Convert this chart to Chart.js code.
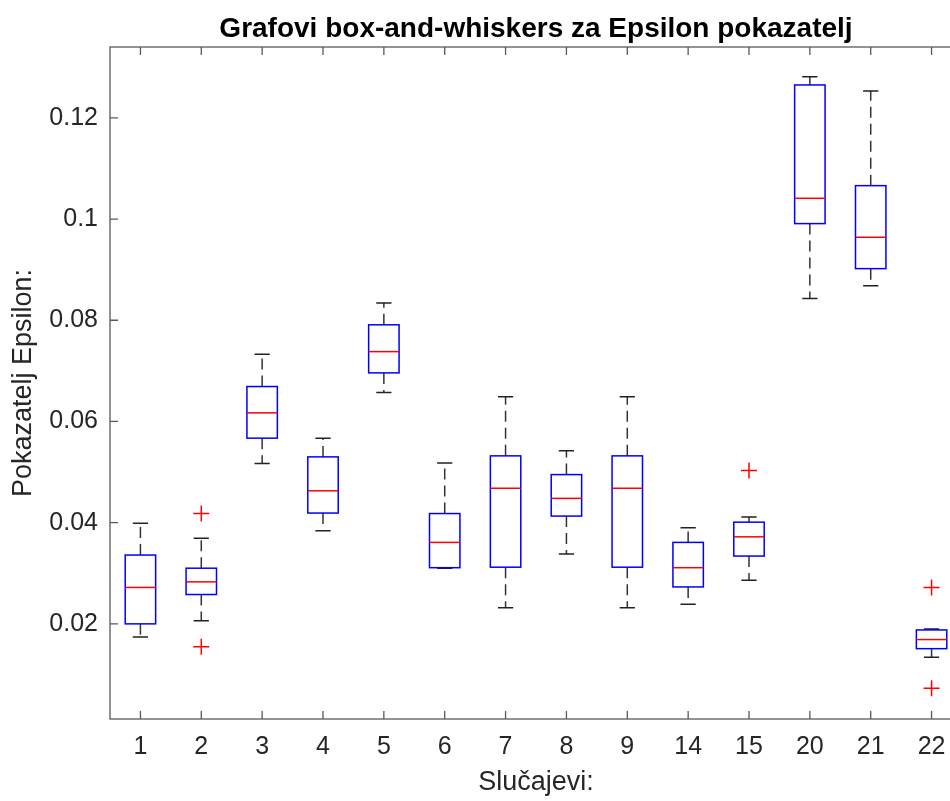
<!DOCTYPE html>
<html>
<head>
<meta charset="utf-8">
<title>Epsilon pokazatelj</title>
<script src="https://cdn.jsdelivr.net/npm/chart.js@4.4.1/dist/chart.umd.min.js"></script>
<style>
    html, body { margin: 0; padding: 0; background: #fff; overflow: hidden; }
    #wrap { width: 975px; height: 801px; }
</style>
</head>
<body>
<div id="wrap"><canvas id="epsilon-chart" width="975" height="801"></canvas></div>
<script>
// Five-number summaries per case
const caseLabels = ["1", "2", "3", "4", "5", "6", "7", "8", "9", "14", "15", "20", "21", "22"];
const whiskerLow  = [0.0174, 0.0206, 0.0517, 0.0384, 0.0657, 0.0310, 0.0232, 0.0338, 0.0232, 0.0239, 0.0286, 0.0843, 0.0868, 0.0134];
const quartile1   = [0.0200, 0.0258, 0.0567, 0.0419, 0.0696, 0.0311, 0.0312, 0.0413, 0.0312, 0.0273, 0.0334, 0.0991, 0.0902, 0.0151];
const medians     = [0.0272, 0.0283, 0.0617, 0.0463, 0.0738, 0.0361, 0.0468, 0.0448, 0.0468, 0.0311, 0.0372, 0.1041, 0.0964, 0.0169];
const quartile3   = [0.0336, 0.0310, 0.0669, 0.0530, 0.0791, 0.0418, 0.0532, 0.0495, 0.0532, 0.0361, 0.0401, 0.1265, 0.1066, 0.0188];
const whiskerHigh = [0.0399, 0.0369, 0.0733, 0.0567, 0.0834, 0.0518, 0.0649, 0.0542, 0.0649, 0.0390, 0.0411, 0.1281, 0.1253, 0.0190];
const outlierValues = [[], [0.0418, 0.0155], [], [], [], [], [], [], [], [], [0.0503], [], [], [0.0272, 0.0073]];
const yTicks = [0.02, 0.04, 0.06, 0.08, 0.1, 0.12];

const FONT = "'Liberation Sans', Arial, Helvetica, sans-serif";
const AXIS_COLOR = "#595959";
const TEXT_COLOR = "#262626";

document.addEventListener("DOMContentLoaded", function() {
    // boxes, whiskers and medians drawn under the outlier markers
    const boxPlot = {
        id: "boxPlot",
        beforeDatasetsDraw(chart) {
            const ctx = chart.ctx;
            const xs = chart.scales.x, ys = chart.scales.y;
            const half = xs.getPixelForValue(1.25) - xs.getPixelForValue(1);
            const capHalf = half / 2;
            ctx.save();
            ctx.lineWidth = 1.5;
            caseLabels.forEach(function(label, i) {
                const cx = xs.getPixelForValue(i + 1);
                const lo = ys.getPixelForValue(whiskerLow[i]);
                const q1 = ys.getPixelForValue(quartile1[i]);
                const md = ys.getPixelForValue(medians[i]);
                const q3 = ys.getPixelForValue(quartile3[i]);
                const hi = ys.getPixelForValue(whiskerHigh[i]);

                // dashed whiskers
                ctx.strokeStyle = "#333333";
                ctx.setLineDash([11, 6]);
                ctx.beginPath();
                ctx.moveTo(cx, q3); ctx.lineTo(cx, hi);
                ctx.moveTo(cx, q1); ctx.lineTo(cx, lo);
                ctx.stroke();
                ctx.setLineDash([]);

                // whisker caps
                ctx.strokeStyle = "#222222";
                ctx.beginPath();
                ctx.moveTo(cx - capHalf, hi); ctx.lineTo(cx + capHalf, hi);
                ctx.moveTo(cx - capHalf, lo); ctx.lineTo(cx + capHalf, lo);
                ctx.stroke();

                // box
                ctx.strokeStyle = "#0000ff";
                ctx.strokeRect(cx - half, q3, 2 * half, q1 - q3);

                // median
                ctx.strokeStyle = "#ff0000";
                ctx.beginPath();
                ctx.moveTo(cx - half, md); ctx.lineTo(cx + half, md);
                ctx.stroke();
            });
            ctx.restore();
        },
        afterDraw(chart) {
            // axes box with inward ticks
            const ctx = chart.ctx;
            const a = chart.chartArea;
            const xs = chart.scales.x, ys = chart.scales.y;
            const tick = 8;
            ctx.save();
            ctx.strokeStyle = AXIS_COLOR;
            ctx.lineWidth = 1.3;
            ctx.strokeRect(a.left, a.top, a.right - a.left, a.bottom - a.top);
            ctx.beginPath();
            caseLabels.forEach(function(label, i) {
                const px = xs.getPixelForValue(i + 1);
                ctx.moveTo(px, a.bottom); ctx.lineTo(px, a.bottom - tick);
                ctx.moveTo(px, a.top); ctx.lineTo(px, a.top + tick);
            });
            yTicks.forEach(function(v) {
                const py = ys.getPixelForValue(v);
                ctx.moveTo(a.left, py); ctx.lineTo(a.left + tick, py);
                ctx.moveTo(a.right, py); ctx.lineTo(a.right - tick, py);
            });
            ctx.stroke();
            ctx.restore();
        }
    };

    const outlierPoints = [];
    outlierValues.forEach(function(list, i) {
        list.forEach(function(v) { outlierPoints.push({ x: i + 1, y: v }); });
    });

    const ctx = document.getElementById("epsilon-chart").getContext("2d");
    new Chart(ctx, {
        type: "scatter",
        data: {
            datasets: [{
                label: "Outliers",
                data: outlierPoints,
                pointStyle: "cross",
                pointRadius: 8,
                pointBorderWidth: 1.5,
                borderColor: "#ff0000",
                backgroundColor: "#ff0000",
                showLine: false
            }]
        },
        options: {
            responsive: false,
            animation: false,
            devicePixelRatio: 1,
            layout: { padding: { left: 0, right: 13, top: 0, bottom: 0 } },
            plugins: {
                legend: { display: false },
                tooltip: { enabled: false },
                title: {
                    display: true,
                    text: "Grafovi box-and-whiskers za Epsilon pokazatelj",
                    fullSize: false,
                    color: "#000000",
                    font: { family: FONT, size: 28, weight: "bold" },
                    padding: { top: 12, bottom: 1.4 }
                }
            },
            scales: {
                x: {
                    type: "linear",
                    min: 0.5,
                    max: 14.5,
                    grid: { display: false },
                    border: { display: false },
                    afterBuildTicks: function(scale) {
                        scale.ticks = caseLabels.map(function(_, i) { return { value: i + 1 }; });
                    },
                    afterFit: function(scale) { scale.height = 82; },
                    ticks: {
                        autoSkip: false,
                        maxRotation: 0,
                        padding: 5,
                        color: TEXT_COLOR,
                        font: { family: FONT, size: 25 },
                        callback: function(value, index) { return caseLabels[index]; }
                    },
                    title: {
                        display: true,
                        text: "Slučajevi:",
                        color: TEXT_COLOR,
                        font: { family: FONT, size: 27 },
                        padding: { top: 0, bottom: 2 }
                    }
                },
                y: {
                    min: 0.0012,
                    max: 0.134,
                    grid: { display: false },
                    border: { display: false },
                    afterBuildTicks: function(scale) {
                        scale.ticks = yTicks.map(function(v) { return { value: v }; });
                    },
                    afterFit: function(scale) { scale.width = 110; },
                    ticks: {
                        padding: 4,
                        color: TEXT_COLOR,
                        font: { family: FONT, size: 25 },
                        callback: function(value) { return String(Number(value.toFixed(2))); }
                    },
                    title: {
                        display: true,
                        text: "Pokazatelj Epsilon:",
                        color: TEXT_COLOR,
                        font: { family: FONT, size: 27 },
                        padding: { top: 7, bottom: 0 }
                    }
                }
            }
        },
        plugins: [boxPlot]
    });
});
</script>
</body>
</html>
